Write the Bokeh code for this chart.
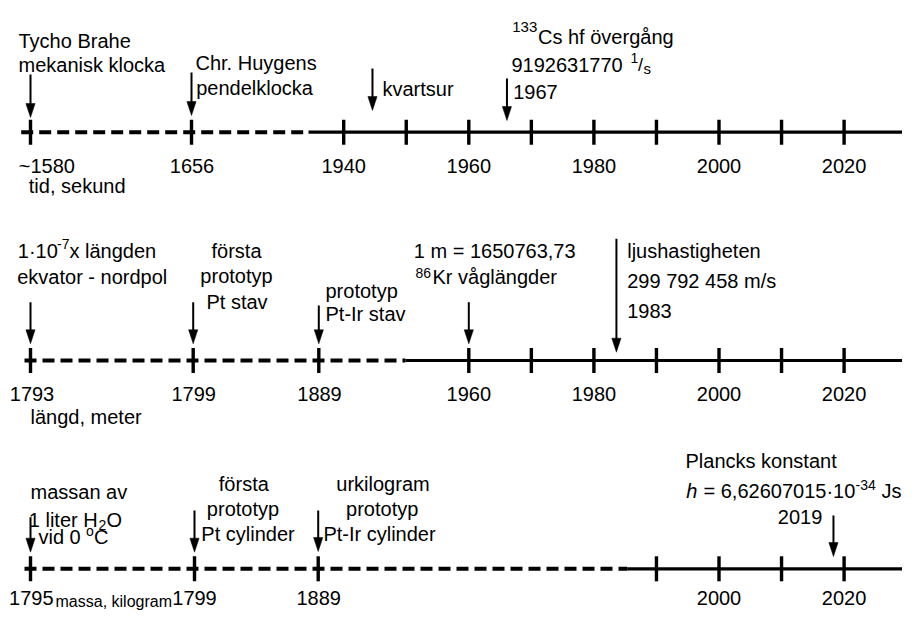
from bokeh.plotting import figure
from bokeh.models import Range1d, ColumnDataSource
from bokeh.embed import file_html
from bokeh.resources import INLINE
from bokeh.core.properties import value

# ------------------------------------------------------------------ data
# Row 1: time, second
sec_caption = "tid, sekund"
sec_early_labels = ["~1580", "1656"]
sec_modern_ticks = [1940, 1950, 1960, 1970, 1980, 1990, 2000, 2010, 2020, 2030]
sec_modern_labels = ["1940", "", "1960", "", "1980", "", "2000", "", "2020", ""]
sec_event_years = [1944.6, 1966.1]          # kvartsur, 133Cs
# Row 2: length, metre
len_caption = "längd, meter"
len_early_labels = ["1793", "1799", "1889"]
len_modern_ticks = [1960, 1970, 1980, 1990, 2000, 2010, 2020, 2030]
len_modern_labels = ["1960", "", "1980", "", "2000", "", "2020", ""]
len_event_years = [1960, 1983.6]            # 86Kr, light speed
# Row 3: mass, kilogram
mass_caption = "massa, kilogram"
mass_early_labels = ["1795", "1799", "1889"]
mass_modern_ticks = [1990, 2000, 2010, 2020, 2030]
mass_modern_labels = ["", "2000", "", "2020", ""]
mass_event_years = [2018.3]                 # Planck constant

# annotation texts
sec_texts = ["Tycho Brahe", "mekanisk klocka", "Chr. Huygens", "pendelklocka", "kvartsur",
             "133", "Cs hf övergång", "9192631770", "1", "/", "s", "1967"]
len_texts = ["1·10", "-7", "x längden", "ekvator - nordpol", "första", "prototyp", "Pt stav",
             "prototyp", "Pt-Ir stav", "1 m = 1650763,73", "86", "Kr våglängder",
             "ljushastigheten", "299 792 458 m/s", "1983"]
mass_texts = ["massan av", "1 liter H", "2", "O", "vid 0", "o", "C", "första", "prototyp",
              "Pt cylinder", "urkilogram", "prototyp", "Pt-Ir cylinder", "Plancks konstant",
              "h", "= 6,62607015·10", "-34", "Js", "2019"]

# ------------------------------------------------------------------ layout / style
FONT = "Liberation Sans"
FS, FS_SMALL = 20, 14
W, H = 902, 611
PX_PER_YEAR = 6.255
REF_YEAR, REF_PX = 1940, 343.2      # pixel anchor of the linear (modern) part


def px2x(px):
    return REF_YEAR + (px - REF_PX) / PX_PER_YEAR


ROW_Y = [131.7, 360.0, 568.3]
LINE_START_PX = [20.7, 24.0, 24.0]
DASH_END_PX = [308.0, 405.0, 626.7]
EARLY_SLOT_PX = [[30.0, 191.0], [30.0, 192.7, 318.3], [30.0, 194.0, 317.7]]
EARLY_LABEL_SHIFT = [[16.3, 0.5], [1.5, 0.5, 0.7], [0.8, 0.0, 0.5]]
TICK_LABEL_Y = [165.0, 393.3, 597.5]
CAPTION_POS = [(28.3, 185.0, FS), (30.0, 416.7, FS), (55.0, 601.0, 16)]
TICK_HALF = 12.5

# arrows: (x in data units, top y, tip y) -- early ones sit on slots
ARROWS = [
    [(px2x(30.0), 74, 117), (px2x(191.0), 72, 115),
     (sec_event_years[0], 68, 110), (sec_event_years[1], 78, 120)],
    [(px2x(30.0), 301.7, 343.3), (px2x(192.7), 301.7, 343.3), (px2x(318.3), 305, 343.3),
     (len_event_years[0], 301.7, 343.3), (len_event_years[1], 238.3, 351.7)],
    [(px2x(30.0), 516.7, 551.7), (px2x(194.0), 510, 551.7), (px2x(317.7), 510, 551),
     (mass_event_years[0], 515, 556)],
]
HEAD_LEN, HEAD_HALF = 14, 4.6

# text layout: (x px, baseline y, size, align, style)
sec_text_pos = [(18, 40, FS, "left", "normal"), (18, 64.5, FS, "left", "normal"),
                (195, 62, FS, "left", "normal"), (195.7, 87.5, FS, "left", "normal"),
                (382, 88.5, FS, "left", "normal"),
                (511.7, 26, 15, "left", "normal"), (537.5, 36, FS, "left", "normal"),
                (511, 64, FS, "left", "normal"), (630, 57.5, FS_SMALL, "left", "normal"),
                (637.5, 64.5, FS - 2, "left", "normal"), (643, 68.3, FS_SMALL + 1, "left", "normal"),
                (512.7, 91.7, FS, "left", "normal")]
len_text_pos = [(17.3, 250, FS, "left", "normal"), (56.5, 243.3, FS_SMALL, "left", "normal"),
                (69, 250, FS, "left", "normal"), (16.7, 276.7, FS, "left", "normal"),
                (236, 250, FS, "center", "normal"), (236, 275, FS, "center", "normal"),
                (236.5, 301.7, FS, "center", "normal"),
                (325, 290, FS, "left", "normal"), (325, 313.3, FS, "left", "normal"),
                (413.3, 250, FS, "left", "normal"), (415, 272.5, FS_SMALL, "left", "normal"),
                (432, 276.5, FS, "left", "normal"),
                (626.7, 250.7, FS, "left", "normal"), (626.7, 280, FS, "left", "normal"),
                (626.7, 310, FS, "left", "normal")]
mass_text_pos = [(30, 491.7, FS, "left", "normal"), (28.3, 519.3, FS, "left", "normal"),
                 (98, 524, FS_SMALL, "left", "normal"), (106, 519.3, FS, "left", "normal"),
                 (38, 536.7, FS, "left", "normal"), (85.5, 530.7, FS_SMALL, "left", "normal"),
                 (93.5, 536.7, FS, "left", "normal"),
                 (243.3, 483.3, FS, "center", "normal"), (242.5, 508.3, FS, "center", "normal"),
                 (247.5, 533.3, FS, "center", "normal"),
                 (382.5, 483.3, FS, "center", "normal"), (381.7, 508.3, FS, "center", "normal"),
                 (379, 533.3, FS, "center", "normal"),
                 (685, 460, FS, "left", "normal"),
                 (685.7, 490, FS, "left", "italic"), (703, 490, FS, "left", "normal"),
                 (855, 484.5, FS_SMALL, "left", "normal"), (881, 490, FS, "left", "normal"),
                 (777.3, 516.7, FS, "left", "normal")]

# ------------------------------------------------------------------ figure
p = figure(width=W, height=H, output_backend="svg", toolbar_location=None,
           x_range=Range1d(px2x(0), px2x(W)), y_range=Range1d(H, 0),
           x_axis_location=None, y_axis_location=None, min_border=0,
           outline_line_color=None, background_fill_color="white",
           border_fill_color="white")
p.xgrid.visible = False
p.ygrid.visible = False

rows = [
    (sec_early_labels, sec_modern_ticks, sec_modern_labels, sec_caption, sec_texts, sec_text_pos),
    (len_early_labels, len_modern_ticks, len_modern_labels, len_caption, len_texts, len_text_pos),
    (mass_early_labels, mass_modern_ticks, mass_modern_labels, mass_caption, mass_texts, mass_text_pos),
]

LINE_END_X = 2031.5

for r, (early_labels, mticks, mlabels, caption, texts, tpos) in enumerate(rows):
    y = ROW_Y[r]
    # timeline: dashed (non-linear past) + solid (linear scale)
    p.line([px2x(LINE_START_PX[r]), px2x(DASH_END_PX[r])], [y, y], line_color="black",
           line_width=4, line_dash="12 6", line_cap="butt")
    p.line([px2x(DASH_END_PX[r]), LINE_END_X], [y, y], line_color="black", line_width=3.2)

    early_x = [px2x(v) for v in EARLY_SLOT_PX[r]]
    tick_x = early_x + list(mticks)
    p.segment(x0=tick_x, y0=[y - TICK_HALF] * len(tick_x), x1=tick_x,
              y1=[y + TICK_HALF] * len(tick_x), line_color="black", line_width=3.4)

    # tick labels
    lab_x = [px2x(v + s) for v, s in zip(EARLY_SLOT_PX[r], EARLY_LABEL_SHIFT[r])] + list(mticks)
    lab_t = list(early_labels) + list(mlabels)
    p.text(x=lab_x, y=[TICK_LABEL_Y[r]] * len(lab_x), text=lab_t,
           text_font=value(FONT), text_font_size=f"{FS}px", text_align="center",
           text_baseline="alphabetic", text_color="black")

    # caption
    cx, cy, cfs = CAPTION_POS[r]
    p.text(x=[px2x(cx)], y=[cy], text=[caption], text_font=value(FONT),
           text_font_size=f"{cfs}px", text_align="left", text_baseline="alphabetic",
           text_color="black")

    # arrows
    ax = [a[0] for a in ARROWS[r]]
    atop = [a[1] for a in ARROWS[r]]
    atip = [a[2] for a in ARROWS[r]]
    p.segment(x0=ax, y0=atop, x1=ax, y1=[t - HEAD_LEN + 2 for t in atip],
              line_color="black", line_width=2)
    hw = HEAD_HALF / PX_PER_YEAR
    p.patches(xs=[[x - hw, x + hw, x] for x in ax],
              ys=[[t - HEAD_LEN, t - HEAD_LEN, t] for t in atip],
              fill_color="black", line_color="black", line_width=0.5)

    # annotation texts grouped by style
    groups = {}
    for t, (tx, ty, sz, al, st) in zip(texts, tpos):
        groups.setdefault((sz, al, st), []).append((px2x(tx), ty, t))
    for (sz, al, st), items in groups.items():
        src = ColumnDataSource(dict(x=[i[0] for i in items], y=[i[1] for i in items],
                                    text=[i[2] for i in items]))
        p.text(x="x", y="y", text="text", source=src, text_font=value(FONT),
               text_font_size=f"{sz}px", text_align=al, text_baseline="alphabetic",
               text_font_style=st, text_color="black")

open("out.html", "w").write(file_html(p, INLINE))
